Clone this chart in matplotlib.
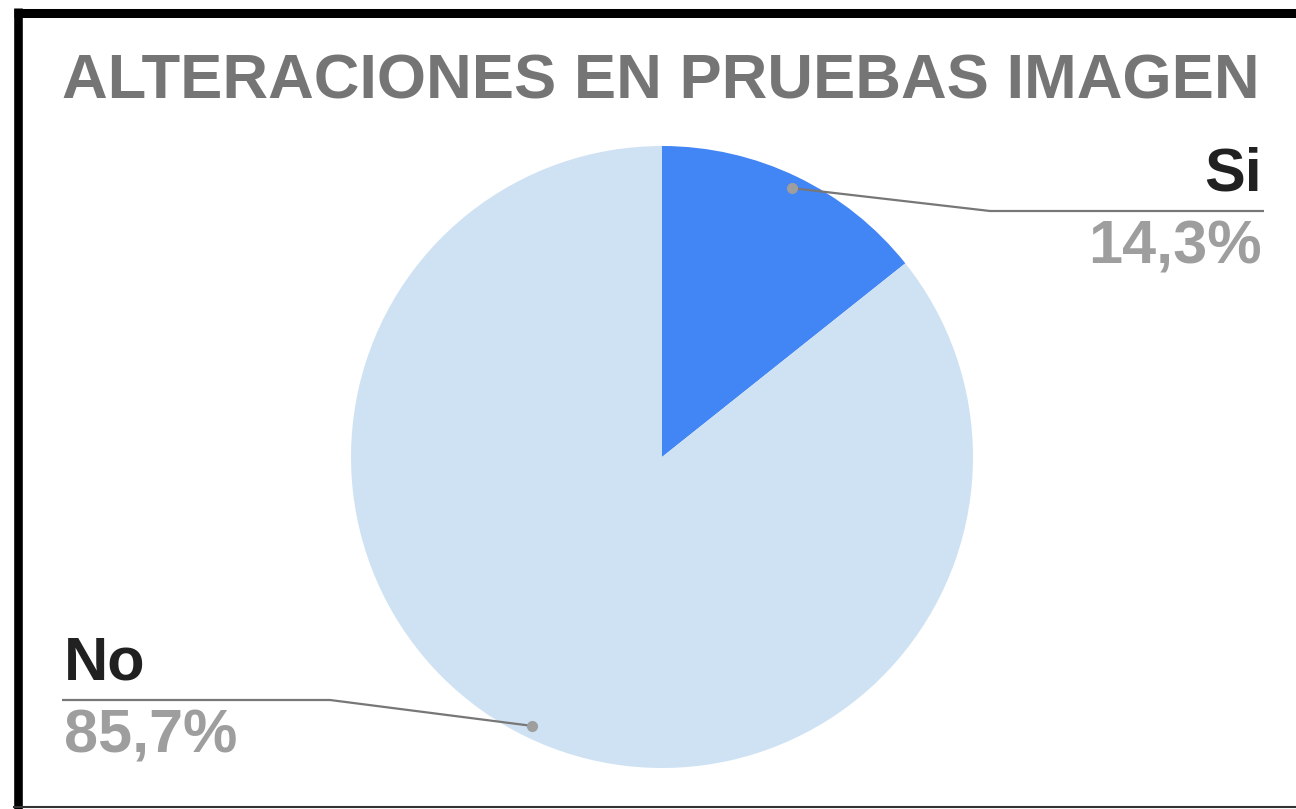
import numpy as np
import matplotlib.pyplot as plt

# datos del grafico
labels = ['Si', 'No']
values = [14.3, 85.7]
pct_text = ['14,3%', '85,7%']
colors = ['#4285F4', '#CFE2F3']
title = 'ALTERACIONES EN PRUEBAS IMAGEN'

W, H = 1296, 809
plt.rcParams['font.family'] = ['Liberation Sans', 'DejaVu Sans']

fig = plt.figure(figsize=(W / 100, H / 100), dpi=100)
ax = fig.add_axes([0, 0, 1, 1])

# centro y radio del pastel (pixeles, y hacia arriba)
cx, cy, R = 662, H - 457, 311
wedges, _ = ax.pie(values, colors=colors, startangle=90, counterclock=False,
                   center=(cx, cy), radius=R, frame=True,
                   wedgeprops=dict(linewidth=0))
ax.set_xlim(0, W)
ax.set_ylim(0, H)
ax.axis('off')

# titulo
ax.text(62, H - 82, title, fontsize=45.5, fontweight='bold', color='#757575',
        ha='left', va='center')

# etiquetas con lineas guia
lab_cfg = [
    # (elbow x, line y, end x, ha, text x)
    (990, H - 211, 1264, 'right', 1262),
    (330, H - 700, 62, 'left', 64),
]
for w, lab, pt, cfg in zip(wedges, labels, pct_text, lab_cfg):
    ang = np.deg2rad((w.theta1 + w.theta2) / 2)
    dx = cx + 0.96 * R * np.cos(ang)
    dy = cy + 0.96 * R * np.sin(ang)
    ex, ly, endx, ha, tx = cfg
    ax.plot([dx, ex, endx], [dy, ly, ly], color='#777777', lw=1.6,
            solid_capstyle='butt')
    ax.plot(dx, dy, 'o', color='#9E9E9E', ms=7)
    ax.text(tx, ly + 8, lab, fontsize=44, fontweight='bold', color='#212121',
            ha=ha, va='bottom')
    ax.text(tx, ly - 8, pt, fontsize=44, fontweight='bold', color='#9E9E9E',
            ha=ha, va='top')

# marco
ax.plot([14, W], [H - 12.5, H - 12.5], color='black', lw=6.5,
        solid_capstyle='butt')
ax.plot([18, 18], [H - 8, 0], color='black', lw=6.2,
        solid_capstyle='butt')
ax.plot([14, W], [2, 2], color='#333333', lw=1.5)

fig.savefig('out.png', dpi=100)
